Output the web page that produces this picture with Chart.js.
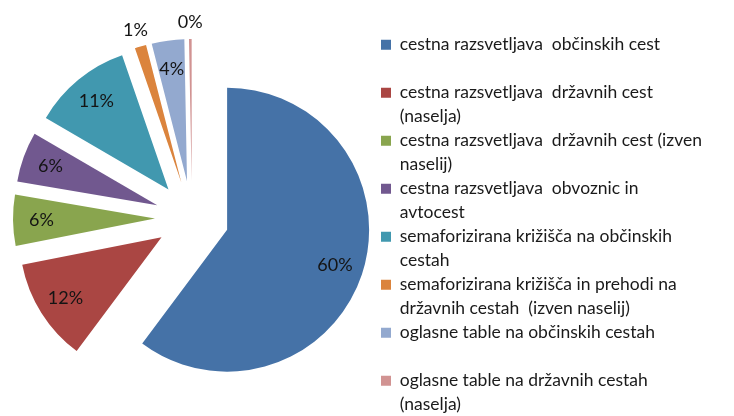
<!DOCTYPE html>
<html>
<head>
<meta charset="utf-8">
<script src="https://cdn.jsdelivr.net/npm/chart.js@4"></script>
<style>
  body { margin: 0; background: #fff; }
</style>
</head>
<body>
<canvas id="myChart" width="734" height="416"></canvas>
<script>
// categories (legend text, split into lines as in the original)
var categories = [
    ['cestna razsvetljava  občinskih cest', ''],
    ['cestna razsvetljava  državnih cest', '(naselja)'],
    ['cestna razsvetljava  državnih cest (izven', 'naselij)'],
    ['cestna razsvetljava  obvoznic in', 'avtocest'],
    ['semaforizirana križišča na občinskih', 'cestah'],
    ['semaforizirana križišča in prehodi na', 'državnih cestah  (izven naselij)'],
    ['oglasne table na občinskih cestah', ''],
    ['oglasne table na državnih cestah', '(naselja)']
];
// share of each category (%)
var shares = [60.2, 11.7, 5.8, 5.7, 11.3, 1.3, 3.7, 0.3];

var colors = ['#4572A7', '#AA4643', '#89A54E', '#71588F', '#4198AF', '#DB843D', '#93A9CF', '#D19392'];
// how far each slice is pulled out of the pie (px)
var explode = [37, 36, 37, 37, 37, 37, 37, 37];

// move every slice outwards along its middle angle
var explodePlugin = {
    id: 'explode',
    afterDatasetsUpdate: function(chart) {
        chart.getDatasetMeta(0).data.forEach(function(arc, i) {
            var mid = (arc.startAngle + arc.endAngle) / 2;
            arc.x += Math.cos(mid) * explode[i];
            arc.y += Math.sin(mid) * explode[i];
        });
    }
};

// percentage labels, small slices get their label outside
var percentLabels = {
    id: 'percentLabels',
    afterDatasetsDraw: function(chart) {
        var ctx = chart.ctx;
        var values = chart.data.datasets[0].data;
        var total = values.reduce(function(a, b) { return a + b; }, 0);
        ctx.save();
        ctx.font = '18px Lato';
        ctx.fillStyle = '#141414';
        ctx.textAlign = 'center';
        ctx.textBaseline = 'middle';
        chart.getDatasetMeta(0).data.forEach(function(arc, i) {
            var share = values[i] / total * 100;
            var mid = (arc.startAngle + arc.endAngle) / 2;
            var f = share < 2 ? 1.12 : 0.8;
            var x = arc.x + Math.cos(mid) * arc.outerRadius * f;
            var y = arc.y + Math.sin(mid) * arc.outerRadius * f;
            ctx.fillText(Math.round(share) + '%', x, y);
        });
        ctx.restore();
    }
};

var ctx = document.getElementById('myChart').getContext('2d');
var chart = new Chart(ctx, {
    type: 'pie',
    data: {
        labels: categories,
        datasets: [{
            data: shares,
            backgroundColor: colors,
            borderWidth: 0,
            radius: 142
        }]
    },
    options: {
        responsive: false,
        animation: false,
        events: [],
        layout: {
            padding: { left: 3, right: 0, top: 20, bottom: 0 }
        },
        plugins: {
            legend: {
                position: 'right',
                align: 'start',
                maxWidth: 353,
                title: {
                    display: true,
                    text: ' ',
                    font: { size: 13, lineHeight: 1 },
                    padding: { top: 0, bottom: 3 }
                },
                labels: {
                    boxWidth: 10,
                    boxHeight: 10,
                    padding: 0,
                    color: '#1a1a1a',
                    font: { family: 'Lato', size: 17.5, lineHeight: '24px' }
                }
            },
            tooltip: { enabled: false }
        }
    },
    plugins: [explodePlugin, percentLabels]
});
</script>
</body>
</html>
